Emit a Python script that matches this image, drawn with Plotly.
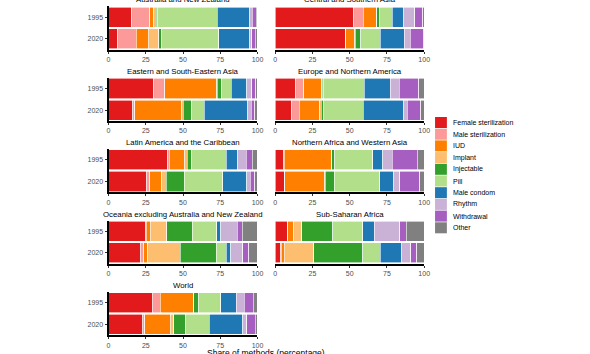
import plotly.graph_objects as go

W, H = 590, 354

methods = ["Female sterilization", "Male sterilization", "IUD", "Implant", "Injectable",
           "Pill", "Male condom", "Rhythm", "Withdrawal", "Other"]
colors = ["#E31A1C", "#FB9A99", "#FF7F00", "#FDBF6F", "#33A02C",
          "#B2DF8A", "#1F78B4", "#CAB2D6", "#A65EC0", "#808080"]
years = ["1995", "2020"]
regions = ["Australia and New Zealand", "Central and Southern Asia",
           "Eastern and South-Eastern Asia", "Europe and Northern America",
           "Latin America and the Caribbean", "Northern Africa and Western Asia",
           "Oceania excluding Australia and New Zealand", "Sub-Saharan Africa", "World"]

anz_1995 = [15.7, 12.0, 2.6, 1.8, 1.1, 39.8, 21.7, 1.8, 2.6, 0.9]
anz_2020 = [6.0, 12.6, 8.2, 7.0, 2.0, 38.1, 21.0, 1.3, 2.3, 1.5]
csa_1995 = [52.5, 6.5, 9.3, 0.0, 1.8, 8.6, 7.3, 7.6, 5.5, 0.9]
csa_2020 = [47.0, 0.5, 5.9, 0.2, 3.8, 13.1, 16.0, 4.2, 8.9, 0.4]
esea_1995 = [30.5, 7.1, 35.0, 0.3, 3.2, 6.2, 10.4, 3.5, 2.7, 1.1]
esea_2020 = [16.4, 1.1, 31.6, 0.9, 6.0, 8.4, 28.7, 2.7, 2.2, 2.0]
ena_1995 = [13.5, 5.8, 12.0, 0.2, 1.1, 27.3, 17.3, 6.2, 12.8, 3.8]
ena_2020 = [10.9, 5.3, 13.7, 1.1, 1.4, 26.6, 27.0, 2.5, 9.1, 2.4]
lac_1995 = [39.6, 1.1, 10.6, 1.4, 3.3, 23.0, 7.7, 5.8, 4.0, 3.5]
lac_2020 = [25.7, 2.0, 7.9, 3.3, 11.8, 26.1, 16.1, 2.2, 2.9, 2.0]
nawa_1995 = [5.8, 0.1, 31.9, 0.1, 1.9, 25.7, 6.7, 6.2, 17.0, 4.7]
nawa_2020 = [6.2, 0.1, 27.0, 0.4, 6.0, 30.4, 9.5, 4.0, 13.5, 2.9]
oce_1995 = [24.8, 0.6, 2.5, 11.3, 17.0, 16.4, 2.6, 11.1, 3.5, 10.2]
oce_2020 = [21.7, 1.8, 2.8, 21.7, 24.3, 6.7, 2.9, 8.1, 4.2, 5.8]
ssa_1995 = [8.4, 0.1, 4.0, 5.3, 20.9, 19.9, 8.0, 16.9, 4.6, 11.9]
ssa_2020 = [3.8, 0.1, 2.3, 19.7, 32.9, 11.7, 14.2, 6.4, 3.8, 5.1]
world_1995 = [29.4, 5.3, 22.2, 0.3, 3.1, 14.9, 10.7, 5.3, 6.1, 2.7]
world_2020 = [22.5, 1.8, 17.3, 2.3, 7.8, 15.8, 22.7, 2.5, 5.7, 1.6]

region_values = [(anz_1995, anz_2020), (csa_1995, csa_2020), (esea_1995, esea_2020),
                 (ena_1995, ena_2020), (lac_1995, lac_2020), (nawa_1995, nawa_2020),
                 (oce_1995, oce_2020), (ssa_1995, ssa_2020), (world_1995, world_2020)]

xticks = [0, 25, 50, 75, 100]

FONT = "Liberation Sans, Arial, sans-serif"

def px_x(v):
    return v / W

def px_y(v):
    return 1 - v / H

col_x = [(108, 259), (277, 428)]
row_bottom = [49.5 + 71.4 * k for k in range(5)]
panel_h = 43.2

fig = go.Figure()
layout = dict(
    width=W, height=H, margin=dict(l=0, r=0, t=0, b=0),
    paper_bgcolor="white", plot_bgcolor="white",
    barmode="stack", bargap=0.07, showlegend=False,
    font=dict(family=FONT, size=7, color="#4D4D4D"),
)
annotations = []
shapes = []

for i, (region, (v95, v20)) in enumerate(zip(regions, region_values)):
    row, col = divmod(i, 2)
    n = i + 1
    xa = "x" if n == 1 else f"x{n}"
    ya = "y" if n == 1 else f"y{n}"
    for m, (name, c) in enumerate(zip(methods, colors)):
        fig.add_trace(go.Bar(
            x=[v95[m], v20[m]], y=years, orientation="h", name=name,
            marker=dict(color=c, line=dict(color="white", width=0.6)),
            xaxis=xa, yaxis=ya, showlegend=False, hoverinfo="skip",
        ))
    x0, x1 = col_x[col]
    yb = row_bottom[row]
    yt = yb - panel_h
    layout["xaxis" if n == 1 else f"xaxis{n}"] = dict(
        domain=[px_x(x0), px_x(x1)], anchor=ya, range=[0, 100],
        tickvals=xticks, ticktext=[str(t) for t in xticks],
        showline=True, linecolor="black", linewidth=2,
        ticks="outside", ticklen=2, tickcolor="#333333", tickwidth=1,
        showgrid=False, zeroline=False, fixedrange=True,
        tickfont=dict(size=7, color="#4D4D4D", family=FONT),
    )
    layout["yaxis" if n == 1 else f"yaxis{n}"] = dict(
        domain=[px_y(yb), px_y(yt)], anchor=xa, type="category",
        categoryorder="array", categoryarray=["2020", "1995"], range=[-0.5, 1.5],
        showline=(col == 0), linecolor="black", linewidth=2,
        ticks="outside" if col == 0 else "", ticklen=2, tickcolor="#333333",
        showticklabels=(col == 0), showgrid=False, zeroline=False, fixedrange=True,
        tickfont=dict(size=7, color="#4D4D4D", family=FONT),
    )
    annotations.append(dict(
        text=region, xref="paper", yref="paper",
        x=px_x((x0 + x1) / 2), y=px_y(yt - 6.5), xanchor="center", yanchor="middle",
        showarrow=False, font=dict(size=7.8, color="black", family=FONT),
    ))

# axis title
annotations.append(dict(
    text="Share of methods (percentage)", xref="paper", yref="paper",
    x=px_x(268), y=px_y(353), xanchor="center", yanchor="middle",
    showarrow=False, font=dict(size=8.5, color="black", family=FONT),
))

# custom legend
for k, (name, c) in enumerate(zip(methods, colors)):
    cy = 122.5 + 11.7 * k
    shapes.append(dict(
        type="rect", xref="paper", yref="paper",
        x0=px_x(439), x1=px_x(451), y0=px_y(cy + 5.5), y1=px_y(cy - 5.5),
        fillcolor=c, line=dict(width=0),
    ))
    annotations.append(dict(
        text=name, xref="paper", yref="paper",
        x=px_x(455), y=px_y(cy), xanchor="left", yanchor="middle",
        showarrow=False, font=dict(size=7, color="black", family=FONT),
    ))

layout["annotations"] = annotations
layout["shapes"] = shapes
fig.update_layout(**layout)
fig.write_html("out.html")
